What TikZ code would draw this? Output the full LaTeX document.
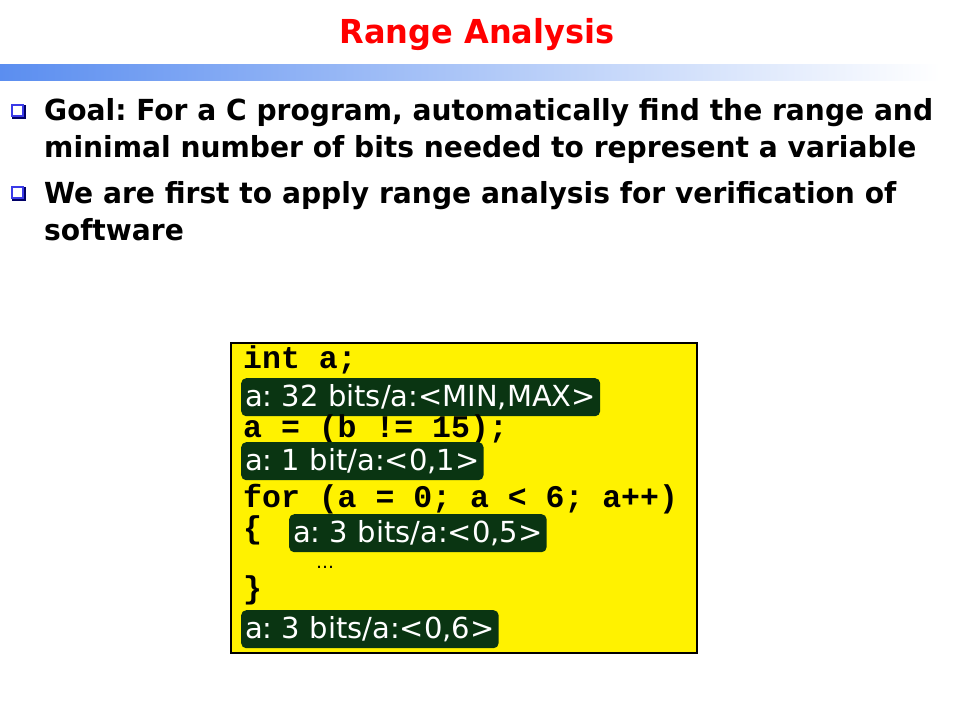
\documentclass[tikz,border=0pt]{standalone}
\usepackage{fontspec}
\setmainfont{DejaVu Sans}
\newfontfamily\titlefont[FakeStretch=0.97]{DejaVu Sans}
\newfontfamily\bodyfont[FakeStretch=0.97]{DejaVu Sans}
\newfontfamily\codefont{Liberation Mono}
\newfontfamily\lblfont{DejaVu Sans}
\definecolor{titlered}{HTML}{FF0000}
\definecolor{barblue}{HTML}{5B8EF0}
\definecolor{bulblue}{HTML}{3A3AE8}
\definecolor{lblgreen}{HTML}{0A3512}
\frenchspacing
\begin{document}
\begin{tikzpicture}[
    x=1pt,
    y=-1pt,
    bullet/.style={
      draw=bulblue,
      line width=1.6pt,
      minimum size=11pt,
      inner sep=0pt
    },
    body/.style={
      anchor=base west,
      inner sep=0pt,
      font=\bodyfont\bfseries\fontsize{29}{37}\selectfont
    },
    code/.style={
      anchor=base west,
      inner sep=0pt,
      font=\codefont\bfseries\fontsize{31.5}{32}\selectfont
    },
    lbl/.style={
      anchor=north west,
      fill=lblgreen,
      text=white,
      rounded corners=5pt,
      minimum height=38pt,
      inner xsep=4pt,
      inner ysep=0pt,
      font=\lblfont\fontsize{29}{30}\selectfont
    }
  ]
    \useasboundingbox (0, 0) rectangle (960, 720);

    % title and bar
    \node[anchor=base, inner sep=0pt, text=titlered,
      font=\titlefont\bfseries\fontsize{33}{34}\selectfont] (title) at (477, 43) {Range Analysis};
    \shade[left color=barblue, right color=white] (0, 64) rectangle (940, 80);

    % bullets
    \fill[blue!40!black] (12, 105) rectangle (26, 119);
    \node[bullet, fill=white] (bul1) at (17.5, 110.5) {};
    \node[body] (goal1) at (44, 120) {Goal: For a C program, automatically find the range and};
    \node[body] (goal2) at (44, 157) {minimal number of bits needed to represent a variable};
    \fill[blue!40!black] (12, 187) rectangle (26, 201);
    \node[bullet, fill=white] (bul2) at (17.5, 192.5) {};
    \node[body] (first1) at (44, 203) {We are first to apply range analysis for verification of};
    \node[body] (first2) at (44, 240) {software};

    % code box
    \draw[line width=2.5pt, fill=yellow] (231, 343) rectangle (697, 653);
    \node[code] (c1) at (243, 368) {int a;};
    \node[lbl] (lbl1) at (241, 378) {a: 32 bits/a:<MIN,MAX>};
    \node[code] (c2) at (243, 437) {a = (b != 15);};
    \node[lbl] (lbl2) at (241, 442) {a: 1 bit/a:<0,1>};
    \node[code] (c3) at (243, 507) {for (a = 0; a < 6; a++)};
    \node[code] (c4) at (243, 538) {\{};
    \node[lbl] (lbl3) at (289, 514) {a: 3 bits/a:<0,5>};
    \node[anchor=base west, inner sep=0pt, font=\lblfont\fontsize{18}{18}\selectfont] (dots) at (316, 568) {\dots};
    \node[code] (c5) at (243, 598) {\}};
    \node[lbl] (lbl4) at (241, 610) {a: 3 bits/a:<0,6>};
  \end{tikzpicture}
\end{document}
